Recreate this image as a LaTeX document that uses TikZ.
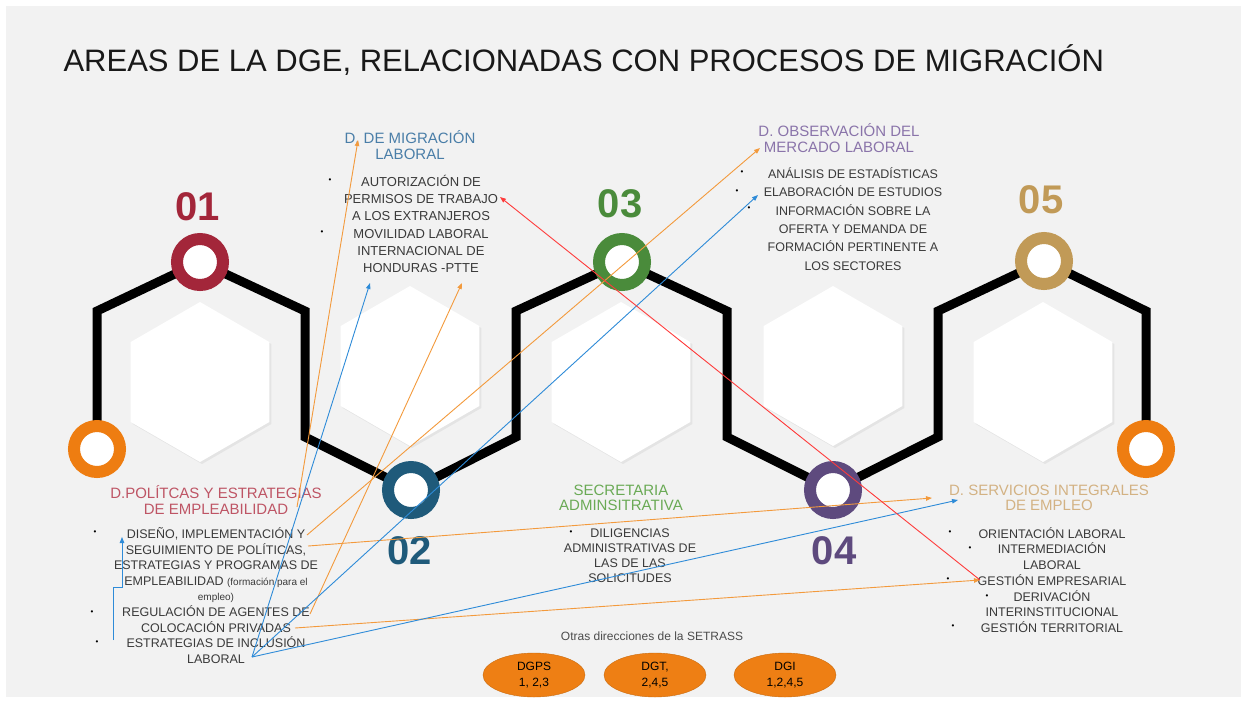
\documentclass[tikz,border=0pt]{standalone}
\usepackage{fontspec}
\setmainfont{Liberation Sans}
\usetikzlibrary{arrows.meta,shadows,shapes.geometric,positioning}

\definecolor{bgslide}{HTML}{F2F2F2}
\definecolor{ringA}{HTML}{A3263A}
\definecolor{ringB}{HTML}{1F5A7A}
\definecolor{ringC}{HTML}{4A8B3B}
\definecolor{ringD}{HTML}{5E4A7E}
\definecolor{ringE}{HTML}{C19A57}
\definecolor{ringO}{HTML}{EE7D11}
\definecolor{headA}{HTML}{BE5565}
\definecolor{headB}{HTML}{4A7EA8}
\definecolor{headC}{HTML}{6AAA55}
\definecolor{headD}{HTML}{8A74AA}
\definecolor{headE}{HTML}{D3B283}
\definecolor{bodytxt}{HTML}{3A3A3A}
\definecolor{arrOrange}{HTML}{F39A3C}
\definecolor{arrBlue}{HTML}{2E8BD8}
\definecolor{arrRed}{HTML}{FF3B3B}
\definecolor{ovalfill}{HTML}{EE7F14}

\newcommand{\txtsize}[2]{\fontsize{#1}{#2}\selectfont}

\tikzset{
  ring/.style={circle,draw=#1,fill=white,line width=12pt,minimum size=46pt,inner sep=0pt},
  numlbl/.style={font=\txtsize{40}{40}\bfseries,text=#1},
  headtxt/.style={align=center,text=#1,font=\txtsize{15}{15.5}},
  bodyblk/.style={align=center,text=bodytxt,inner sep=0pt},
  bulletmark/.style={font=\txtsize{8}{8},text=black,inner sep=0pt},
  oval/.style={ellipse,fill=ovalfill,draw=ovalfill!85!black,minimum width=102pt,minimum height=44pt,
    inner sep=0pt,align=center,font=\txtsize{12}{16}},
  link/.style={-{Triangle[length=6pt,width=4.5pt]},line width=0.9pt,draw=#1},
}

\begin{document}
\begin{tikzpicture}[x=1pt,y=-1pt]
  % Slide background, pixel coordinates with y pointing down.
  \useasboundingbox (0,0) rectangle (1247,702);
  \fill[white] (0,0) rectangle (1247,702);
  \fill[bgslide] (6,6) rectangle (1241,697);

  \node[anchor=west,font=\txtsize{31}{33},text=black!90] (title) at (60,60)
    {AREAS DE LA DGE, RELACIONADAS CON PROCESOS DE MIGRACIÓN};

  % White hexagons behind the chain.
  \foreach \hx/\hy in {200/382,410/366,621/382,833/366,1043/382}{
    \fill[white,drop shadow={opacity=0.12,shadow xshift=2pt,shadow yshift=-2pt},shift={(\hx,\hy)}]
      (90:80) -- (30:80) -- (-30:80) -- (-90:80) -- (-150:80) -- (150:80) -- cycle;
  }

  % Ring centers.
  \coordinate (cL) at (97,449);
  \coordinate (c1) at (200,262);
  \coordinate (c2) at (411,490);
  \coordinate (c3) at (622,262);
  \coordinate (c4) at (833,490);
  \coordinate (c5) at (1044,261);
  \coordinate (cR) at (1146,449);

  % Black chain.
  \draw[line width=9pt] (cL) -- (97,311) -- (c1) -- (305,311) -- (305,437) -- (c2)
    -- (516,437) -- (516,311) -- (c3) -- (727,311) -- (727,437) -- (c4)
    -- (938,437) -- (938,311) -- (c5) -- (1146,311) -- (cR);

  \node[ring=ringO] (rL) at (cL) {};
  \node[ring=ringA] (r1) at (c1) {};
  \node[ring=ringB] (r2) at (c2) {};
  \node[ring=ringC] (r3) at (c3) {};
  \node[ring=ringD] (r4) at (c4) {};
  \node[ring=ringE] (r5) at (c5) {};
  \node[ring=ringO] (rR) at (cR) {};

  \node[numlbl=ringA] (n1) at (198,207) {01};
  \node[numlbl=ringB] (n2) at (410,551) {02};
  \node[numlbl=ringC] (n3) at (620,204) {03};
  \node[numlbl=ringD] (n4) at (834,551) {04};
  \node[numlbl=ringE] (n5) at (1041,200) {05};

  % Headings of each area.
  \node[headtxt=headB] (hMig) at (410,145) {D. DE MIGRACIÓN\\LABORAL};
  \node[headtxt=headD] (hObs) at (839,138) {D. OBSERVACIÓN DEL\\MERCADO LABORAL};
  \node[headtxt=headA] (hPol) at (216,500) {D.POLÍTCAS Y ESTRATEGIAS\\DE EMPLEABILIDAD};
  \node[headtxt=headC] (hSec) at (621,498) {SECRETARIA\\ADMINSITRATIVA};
  \node[headtxt=headE] (hSer) at (1049,498) {D. SERVICIOS INTEGRALES\\DE EMPLEO};

  % Task lists.
  \node[bodyblk,font=\txtsize{13}{17.2}] (bMig) at (421,224)
    {AUTORIZACIÓN DE\\PERMISOS DE TRABAJO\\A LOS EXTRANJEROS\\MOVILIDAD LABORAL\\INTERNACIONAL DE\\HONDURAS -PTTE};
  \node[bodyblk,font=\txtsize{12.5}{18.4}] (bObs) at (853,219)
    {ANÁLISIS DE ESTADÍSTICAS\\ELABORACIÓN DE ESTUDIOS\\INFORMACIÓN SOBRE LA\\OFERTA Y DEMANDA DE\\FORMACIÓN PERTINENTE A\\LOS SECTORES};
  \node[bodyblk,font=\txtsize{12.5}{15.6}] (bPol) at (216,595.5)
    {DISEÑO, IMPLEMENTACIÓN Y\\SEGUIMIENTO DE POLÍTICAS,\\ESTRATEGIAS Y PROGRAMAS DE\\
     EMPLEABILIDAD {\txtsize{10}{12}(formación para el}\\{\txtsize{10}{12}empleo)}\\
     REGULACIÓN DE AGENTES DE\\COLOCACIÓN PRIVADAS\\ESTRATEGIAS DE INCLUSIÓN\\LABORAL};
  \node[bodyblk,font=\txtsize{12.5}{15}] (bSec) at (630,555.5)
    {DILIGENCIAS\\ADMINISTRATIVAS DE\\LAS DE LAS\\SOLICITUDES};
  \node[bodyblk,font=\txtsize{12.5}{15.7}] (bSer) at (1052,580)
    {ORIENTACIÓN LABORAL\\INTERMEDIACIÓN\\LABORAL\\GESTIÓN EMPRESARIAL\\DERIVACIÓN\\INTERINSTITUCIONAL\\GESTIÓN TERRITORIAL};

  \foreach \bx/\by in {330/181,322/233,742/173,737/192,749/209,95/533,92/613,97/643,
                       571/533,950/533,970/549,948/580,987/597,953/627}
    \node[bulletmark] (bl\bx) at (\bx,\by) {•};

  % Other directorates.
  \node[font=\txtsize{12}{14},text=black!70] (otras) at (652,636) {Otras direcciones de la SETRASS};
  \node[oval] (dgps) at (534,675) {DGPS\\1, 2,3};
  \node[oval] (dgt) at (655,675) {DGT,\\2,4,5};
  \node[oval] (dgi) at (785,675) {DGI\\1,2,4,5};

  % Link end points.
  \coordinate (polHead) at (297,507);
  \coordinate (polY) at (307,535);
  \coordinate (polComma) at (308,546);
  \coordinate (polAgentes) at (310,614);
  \coordinate (polPriv) at (295,628);
  \coordinate (polLab) at (252,657);
  \coordinate (polElbow) at (113,640);
  \coordinate (polDis) at (122,537);
  \coordinate (migHead) at (358,140);
  \coordinate (migLowA) at (370,283);
  \coordinate (migLowB) at (462,283);
  \coordinate (migTrab) at (500,197);
  \coordinate (obsHead) at (760,148);
  \coordinate (obsElab) at (758,195);
  \coordinate (serHeadA) at (932,498);
  \coordinate (serHeadB) at (958,500);
  \coordinate (serGest) at (980,580);

  % Links between the areas.
  \draw[link=arrOrange] (polHead) -- (migHead);
  \draw[link=arrOrange] (polY) -- (obsHead);
  \draw[link=arrOrange] (polComma) -- (serHeadA);
  \draw[link=arrOrange] (polAgentes) -- (migLowB);
  \draw[link=arrOrange] (polPriv) -- (serGest);
  \draw[link=arrBlue] (polLab) -- (migLowA);
  \draw[link=arrBlue] (polLab) -- (obsElab);
  \draw[link=arrBlue] (polLab) -- (serHeadB);
  \draw[link=arrBlue] (polElbow) -- ++(0,-53) -| (polDis);
  \draw[link=arrRed] (serGest) -- (migTrab);
\end{tikzpicture}
\end{document}
